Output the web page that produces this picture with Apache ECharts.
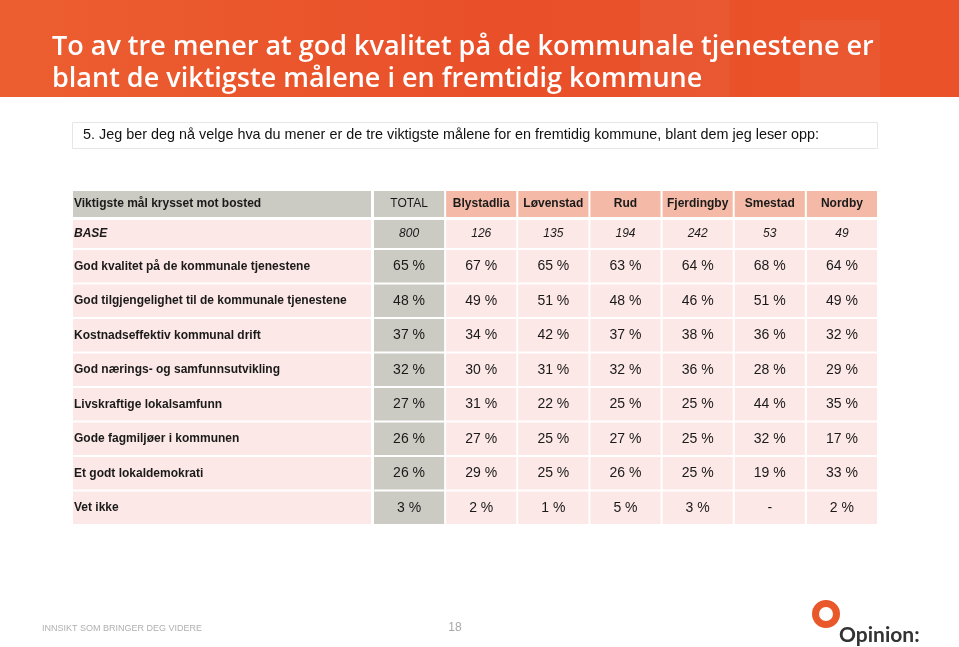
<!DOCTYPE html>
<html><head><meta charset="utf-8">
<script src="https://cdn.jsdelivr.net/npm/echarts@6/dist/echarts.min.js"></script>
<style>html,body{margin:0;padding:0;background:#fff}#c{width:959px;height:647px}</style>
</head><body><div id="c"></div>
<script>
// ---- data ----
const titleText = 'To av tre mener at god kvalitet på de kommunale tjenestene er\nblant de viktigste målene i en fremtidig kommune';
const questionText = '5. Jeg ber deg nå velge hva du mener er de tre viktigste målene for en fremtidig kommune, blant dem jeg leser opp:';
const headerLabel = 'Viktigste mål krysset mot bosted';
const columns = ['TOTAL', 'Blystadlia', 'Løvenstad', 'Rud', 'Fjerdingby', 'Smestad', 'Nordby'];
const baseLabel = 'BASE';
const baseValues = [800, 126, 135, 194, 242, 53, 49];
const rowLabels = [
  'God kvalitet på de kommunale tjenestene',
  'God tilgjengelighet til de kommunale tjenestene',
  'Kostnadseffektiv kommunal drift',
  'God nærings- og samfunnsutvikling',
  'Livskraftige lokalsamfunn',
  'Gode fagmiljøer i kommunen',
  'Et godt lokaldemokrati',
  'Vet ikke'
];
const totalValues = [65, 48, 37, 32, 27, 26, 26, 3];
const blystadlia = [67, 49, 34, 30, 31, 27, 29, 2];
const lovenstad = [65, 51, 42, 31, 22, 25, 25, 1];
const rud = [63, 48, 37, 32, 25, 27, 26, 5];
const fjerdingby = [64, 46, 38, 36, 25, 25, 25, 3];
const smestad = [68, 51, 36, 28, 44, 32, 19, null];
const nordby = [64, 49, 32, 29, 35, 17, 33, 2];
const footerText = 'INNSIKT SOM BRINGER DEG VIDERE';
const pageNumber = '18';
const logoText = 'Opinion:';

// ---- styles ----
const FONT = '"Liberation Sans", Arial, sans-serif';
const GREY = '#cbcbc3';
const SALMON = '#f5baa7';
const PINK = '#fce8e6';
const TXT = '#1a1a1a';

const valueCols = [totalValues, blystadlia, lovenstad, rud, fjerdingby, smestad, nordby];
const fmt = v => (v == null ? '-' : v + ' %');

const chart = echarts.init(document.getElementById('c'), null, {renderer: 'canvas'});

const LEFT = 72, LABEL_W = 300, VAL_L = 373, VAL_W = 505;
const bands = [
  {top: 190, height: 28, rows: 1},
  {top: 219, height: 30, rows: 1},
  {top: 249, height: 276, rows: 8}
];
const grids = [], xAxes = [], yAxes = [];
bands.forEach((b, bi) => {
  grids.push({left: LEFT, top: b.top, width: LABEL_W, height: b.height, containLabel: false});
  grids.push({left: VAL_L, top: b.top, width: VAL_W, height: b.height, containLabel: false});
  const rowsCat = Array.from({length: b.rows}, (_, i) => 'r' + i);
  xAxes.push({gridIndex: bi * 2, type: 'category', data: ['label'], show: false});
  xAxes.push({gridIndex: bi * 2 + 1, type: 'category', data: columns, show: false});
  yAxes.push({gridIndex: bi * 2, type: 'category', data: rowsCat, inverse: true, show: false});
  yAxes.push({gridIndex: bi * 2 + 1, type: 'category', data: rowsCat, inverse: true, show: false});
});

// style = {size, weight, italic}
function makeRender(texts, fills, styles, align) {
  return function (params, api) {
    const i = params.dataIndex;
    const c = api.coord([api.value(0), api.value(1)]);
    const s = api.size([1, 1]);
    const x0 = c[0] - s[0] / 2 + 1, y0 = c[1] - s[1] / 2 + 1;
    const w = s[0] - 2, h = s[1] - 2;
    const st = styles[i];
    return {
      type: 'group',
      children: [
        {type: 'rect', shape: {x: x0, y: y0, width: w, height: h}, style: {fill: fills[i]}, silent: true},
        {type: 'text', style: {
          text: texts[i], x: align === 'left' ? x0 + 1 : c[0], y: c[1],
          textAlign: align, textVerticalAlign: 'middle',
          fill: TXT, fontSize: st.size, fontWeight: st.weight, fontStyle: st.italic ? 'italic' : 'normal',
          fontFamily: FONT
        }, silent: true}
      ]
    };
  };
}

const series = [];
function addCells(gridBand, isLabel, data, texts, fills, styles, align) {
  const axisIdx = gridBand * 2 + (isLabel ? 0 : 1);
  series.push({
    type: 'custom', xAxisIndex: axisIdx, yAxisIndex: axisIdx,
    data: data, renderItem: makeRender(texts, fills, styles, align), silent: true, animation: false
  });
}

// header
addCells(0, true, [[0, 0]], [headerLabel], [GREY], [{size: 12, weight: 'bold'}], 'left');
addCells(0, false, columns.map((c, j) => [j, 0]), columns,
  columns.map((c, j) => j === 0 ? GREY : SALMON),
  columns.map((c, j) => ({size: 12, weight: j === 0 ? 'normal' : 'bold'})), 'center');
// base
addCells(1, true, [[0, 0]], [baseLabel], [PINK], [{size: 12, weight: 'bold', italic: true}], 'left');
addCells(1, false, baseValues.map((v, j) => [j, 0]), baseValues.map(String),
  baseValues.map((v, j) => j === 0 ? GREY : PINK),
  baseValues.map(() => ({size: 12, weight: 'normal', italic: true})), 'center');
// data rows
addCells(2, true, rowLabels.map((l, r) => [0, r]), rowLabels, rowLabels.map(() => PINK),
  rowLabels.map(() => ({size: 12, weight: 'bold'})), 'left');
const vData = [], vTexts = [], vFills = [], vStyles = [];
valueCols.forEach((col, j) => col.forEach((v, r) => {
  vData.push([j, r]); vTexts.push(fmt(v)); vFills.push(j === 0 ? GREY : PINK); vStyles.push({size: 14, weight: 'normal'});
}));
addCells(2, false, vData, vTexts, vFills, vStyles, 'center');

const option = {
  backgroundColor: '#ffffff',
  animation: false,
  title: {
    text: titleText, left: 47, top: 26,
    textStyle: {color: '#ffffff', fontSize: 27, fontWeight: 600, fontFamily: '"Open Sans", sans-serif', lineHeight: 32}
  },
  grid: grids, xAxis: xAxes, yAxis: yAxes, series: series,
  graphic: [
    {type: 'rect', z: -10, shape: {x: 0, y: 0, width: 959, height: 97},
      style: {fill: new echarts.graphic.LinearGradient(0, 0, 1, 0, [
        {offset: 0, color: '#ec5e30'}, {offset: 0.5, color: '#e9502a'}, {offset: 1, color: '#ea532a'}])}},
    {type: 'rect', z: -9, shape: {x: 640, y: 0, width: 90, height: 97}, style: {fill: 'rgba(255,255,255,0.04)'}},
    {type: 'rect', z: -9, shape: {x: 800, y: 20, width: 80, height: 77}, style: {fill: 'rgba(255,255,255,0.03)'}},
    {type: 'rect', shape: {x: 72.5, y: 122.5, width: 805, height: 26}, style: {fill: '#fff', stroke: '#e6e6e6', lineWidth: 1}},
    {type: 'text', style: {text: questionText, x: 83, y: 135.5, textVerticalAlign: 'middle', fontSize: 14.4, fontFamily: FONT, fill: '#111'}},
    {type: 'text', style: {text: footerText, x: 42, y: 629, textVerticalAlign: 'middle', fontSize: 9, fontFamily: FONT, fill: '#b0b0b0'}},
    {type: 'text', style: {text: pageNumber, x: 455, y: 628, textAlign: 'center', textVerticalAlign: 'middle', fontSize: 12, fontFamily: FONT, fill: '#a8a8a8'}},
    {type: 'ring', shape: {cx: 826, cy: 614, r: 14, r0: 7}, style: {fill: '#e8582a'}},
    {type: 'text', style: {text: logoText, x: 839, y: 635, textVerticalAlign: 'middle', fontSize: 21, fontWeight: 'bold', fontFamily: 'Lato, sans-serif', fill: '#333'}}
  ]
};
chart.setOption(option);
</script></body></html>
